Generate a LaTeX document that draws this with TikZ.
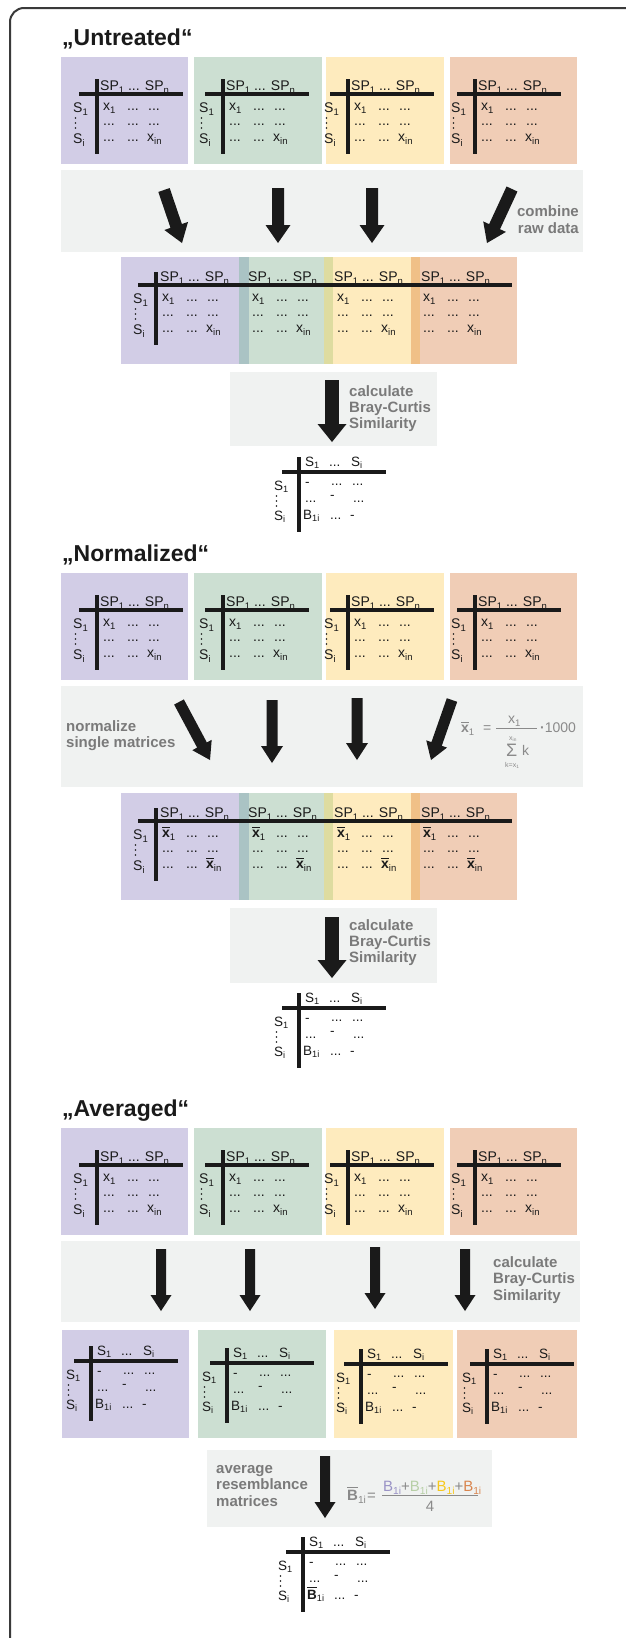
\documentclass[tikz,border=0pt]{standalone}
\usepackage{fontspec}
\setmainfont{Liberation Sans}
\usetikzlibrary{calc}
\definecolor{purp}{HTML}{D2CDE6}
\definecolor{gree}{HTML}{CCDFD2}
\definecolor{yell}{HTML}{FEEBBE}
\definecolor{oran}{HTML}{F0CDB6}
\definecolor{pg}{HTML}{AAC3C4}
\definecolor{gy}{HTML}{DEDCA0}
\definecolor{yo}{HTML}{F0C087}
\definecolor{bandc}{HTML}{F0F2F1}
\definecolor{inkc}{HTML}{1A1A1A}
\definecolor{lblc}{HTML}{7A7A7A}
\definecolor{frmc}{HTML}{3A3A3A}
\definecolor{fmlc}{HTML}{8A8A8A}
\definecolor{bpur}{HTML}{9A93C6}
\definecolor{bgre}{HTML}{B7CFA6}
\definecolor{byel}{HTML}{F7C81B}
\definecolor{bora}{HTML}{D9854E}
\newcommand\dn[1]{\raisebox{-0.22em}{\scalebox{0.68}{#1}}}
\newcommand\ovl[1]{\leavevmode\setbox0\hbox{#1}\rlap{\raisebox{\dimexpr\ht0+1.3pt\relax}{\rule{\wd0}{1.4pt}}}\box0}
\tikzset{
 bar/.style={line width=3.8pt, draw=inkc},
 mt/.style={inner sep=0pt, anchor=base west, text=inkc, font=\fontsize{14}{14}\selectfont},
 rt/.style={inner sep=0pt, anchor=base west, text=inkc, font=\fontsize{13.5}{13.5}\selectfont},
 lbl/.style={inner sep=0pt, anchor=base west, text=lblc, font=\fontsize{15}{15}\selectfont\bfseries},
 ttl/.style={inner sep=0pt, anchor=base west, text=inkc, font=\fontsize{23}{23}\selectfont\bfseries},
 fml/.style={inner sep=0pt, anchor=base west, text=fmlc, font=\fontsize{14}{14}\selectfont},
 fmls/.style={inner sep=0pt, anchor=base west, text=fmlc, font=\fontsize{7}{7}\selectfont},
 fmlb/.style={inner sep=0pt, anchor=base west, text=fmlc, font=\fontsize{15}{15}\selectfont},
}
% big block arrow: name, start, tip, half shaft, half head, head length
\newcommand\bigarr[6]{%
\coordinate (#1s) at #2;
\coordinate (#1t) at #3;
\coordinate (#1h) at ($(#1t)!#6!(#1s)$);
\fill[inkc] ($(#1s)!#4!90:(#1t)$) -- ($(#1h)!#4!-90:(#1s)$) -- ($(#1h)!#5!-90:(#1s)$) -- (#1t) -- ($(#1h)!#5!90:(#1s)$) -- ($(#1h)!#4!90:(#1s)$) -- ($(#1s)!#4!-90:(#1t)$) -- cycle;}
% source matrix: prefix, vx, hy, first entry, last entry
\newcommand\srcmat[5]{%
\begin{scope}[shift={(#2,#3)}]
\draw[bar] (0,-15) -- (0,60);
\draw[bar] (-18,0) -- (86,0);
\node[mt] (#1hd) at (3,-4) {SP\dn{1} ... SP\dn{n}};
\node[mt] (#1sa) at (-24,18) {S\dn{1}};
\node[mt] (#1sb) at (-24,49) {S\dn{i}};
\fill[inkc] (-21.5,24) circle (0.9pt) (-21.5,29) circle (0.9pt) (-21.5,34) circle (0.9pt);
\node[mt] (#1ra) at (6,16) {#4};
\node[mt] (#1rb) at (30,16) {...};
\node[mt] (#1rc) at (51,16) {...};
\node[mt] (#1rd) at (6,31) {...};
\node[mt] (#1re) at (30,31) {...};
\node[mt] (#1rf) at (51,31) {...};
\node[mt] (#1rg) at (6,47) {...};
\node[mt] (#1rh) at (30,47) {...};
\node[mt] (#1ri) at (50,47) {#5};
\end{scope}}
% combined matrix: prefix, vx, hy, first entry, last entry
\newcommand\combmat[5]{%
\begin{scope}[shift={(#2,#3)}]
\draw[bar] (0,-13) -- (0,60);
\draw[bar] (-18,0) -- (356,0);
\node[mt] (#1sa) at (-23,18) {S\dn{1}};
\node[mt] (#1sb) at (-23,49) {S\dn{i}};
\fill[inkc] (-20.5,24) circle (0.9pt) (-20.5,29) circle (0.9pt) (-20.5,34) circle (0.9pt);
\foreach \hx/\rx [count=\k] in {4/6, 92/96, 178/181, 265/267}{
 \node[mt] (#1hd\k) at (\hx,-4) {SP\dn{1} ... SP\dn{n}};
 \node[mt] (#1ra\k) at (\rx,16) {#4};
 \node[mt] (#1rb\k) at (\rx+24,16) {...};
 \node[mt] (#1rc\k) at (\rx+45,16) {...};
 \node[mt] (#1rd\k) at (\rx,31) {...};
 \node[mt] (#1re\k) at (\rx+24,31) {...};
 \node[mt] (#1rf\k) at (\rx+45,31) {...};
 \node[mt] (#1rg\k) at (\rx,47) {...};
 \node[mt] (#1rh\k) at (\rx+24,47) {...};
 \node[mt] (#1ri\k) at (\rx+44,47) {#5};
}
\end{scope}}
% resemblance matrix: prefix, vx, hy, corner entry
\newcommand\resmat[4]{%
\begin{scope}[shift={(#2,#3)}]
\draw[bar] (0,-15) -- (0,60);
\draw[bar] (-17,0) -- (87,0);
\node[rt] (#1ha) at (6,-6) {S\dn{1}};
\node[rt] (#1hb) at (30,-6) {...};
\node[rt] (#1hc) at (52,-6) {S\dn{i}};
\node[rt] (#1sa) at (-25,18) {S\dn{1}};
\node[rt] (#1sb) at (-25,48) {S\dn{i}};
\fill[inkc] (-22.5,24) circle (0.85pt) (-22.5,29) circle (0.85pt) (-22.5,34) circle (0.85pt);
\node[rt] (#1a) at (6,14) {-};
\node[rt] (#1b) at (32,13) {...};
\node[rt] (#1c) at (53,13) {...};
\node[rt] (#1d) at (6,30) {...};
\node[rt] (#1e) at (31,27) {-};
\node[rt] (#1f) at (54,30) {...};
\node[rt] (#1g) at (4,47) {#4};
\node[rt] (#1k) at (31,47) {...};
\node[rt] (#1m) at (51,47) {-};
\end{scope}}
\newcommand\fourboxes[2]{%
\fill[purp] (61,#1) rectangle (188,#2);
\fill[gree] (194,#1) rectangle (322,#2);
\fill[yell] (326,#1) rectangle (444,#2);
\fill[oran] (450,#1) rectangle (577,#2);}
\newcommand\combbox[2]{%
\fill[purp] (121,#1) rectangle (239,#2);
\fill[pg] (239,#1) rectangle (249,#2);
\fill[gree] (249,#1) rectangle (324,#2);
\fill[gy] (324,#1) rectangle (333,#2);
\fill[yell] (333,#1) rectangle (411,#2);
\fill[yo] (411,#1) rectangle (420,#2);
\fill[oran] (420,#1) rectangle (517,#2);}
\newcommand\xb{\ovl{\textbf{x}}}
\begin{document}
\begin{tikzpicture}[x=1pt,y=-1pt]
\useasboundingbox (0,0) rectangle (625,1638);
\fill[white] (0,0) rectangle (625,1638);
\draw[frmc, line width=2pt, rounded corners=14pt] (10,1700) -- (10,8) -- (700,8);

% ---------------- Untreated ----------------
\node[ttl] (t1) at (62,45) {„Untreated“};
\fourboxes{57}{164}
\srcmat{ua}{97}{94}{x\dn{1}}{x\dn{in}}
\srcmat{ub}{223}{94}{x\dn{1}}{x\dn{in}}
\srcmat{uc}{348}{94}{x\dn{1}}{x\dn{in}}
\srcmat{ud}{475}{94}{x\dn{1}}{x\dn{in}}
\fill[bandc] (61,170) rectangle (583,252);
\bigarr{ua1}{(164,190)}{(182,243)}{6pt}{12.5pt}{18pt}
\bigarr{ua2}{(278,188)}{(278,243)}{6pt}{12.5pt}{18pt}
\bigarr{ua3}{(372,188)}{(372,243)}{6pt}{12.5pt}{18pt}
\bigarr{ua4}{(512,189)}{(487,243)}{6pt}{12.5pt}{18pt}
\node[lbl, anchor=base east] (l1a) at (579,216) {combine};
\node[lbl, anchor=base east] (l1b) at (579,233) {raw data};
\combbox{257}{364}
\combmat{uk}{156}{285}{x\dn{1}}{x\dn{in}}
\fill[bandc] (230,372) rectangle (437,446);
\bigarr{ub1}{(332,380)}{(332,442)}{6.8pt}{14.5pt}{18pt}
\node[lbl] (l2a) at (349,396) {calculate};
\node[lbl] (l2b) at (349,412) {Bray-Curtis};
\node[lbl] (l2c) at (349,428) {Similarity};
\resmat{ur}{299}{472}{B\dn{1i}}

% ---------------- Normalized ----------------
\node[ttl] (t2) at (62,561) {„Normalized“};
\fourboxes{573}{680}
\srcmat{na}{97}{610}{x\dn{1}}{x\dn{in}}
\srcmat{nb}{223}{610}{x\dn{1}}{x\dn{in}}
\srcmat{nc}{348}{610}{x\dn{1}}{x\dn{in}}
\srcmat{nd}{475}{610}{x\dn{1}}{x\dn{in}}
\fill[bandc] (61,686) rectangle (583,787);
\bigarr{na1}{(179,702)}{(210,760)}{5.5pt}{11pt}{17pt}
\bigarr{na2}{(272,700)}{(272,763)}{5.5pt}{11pt}{17pt}
\bigarr{na3}{(357,698)}{(357,760)}{5.5pt}{11pt}{17pt}
\bigarr{na4}{(452,700)}{(431,760)}{5.5pt}{11pt}{17pt}
\node[lbl] (l3a) at (66,731) {normalize};
\node[lbl] (l3b) at (66,747) {single matrices};
\node[fml] (f1) at (461,732) {\xb\dn{1}};
\node[fml] (f2) at (483,732) {=};
\draw[fmlc, line width=0.7pt] (496,728) -- (537,728);
\node[fml] (f3) at (508,723) {x\dn{1}};
\node[fmls] (f4) at (509,740) {x\dn{in}};
\node[fml, font=\fontsize{18}{18}\selectfont] (f5) at (506,756) {Σ};
\node[fml] (f6) at (522,755) {k};
\node[fmls] (f7) at (505,767) {k=x\dn{1}};
\node[fml] (f8) at (540,732) {\textbf{·}1000};
\combbox{793}{900}
\combmat{nk}{156}{821}{\xb\dn{1}}{\xb\dn{in}}
\fill[bandc] (230,908) rectangle (437,983);
\bigarr{nb1}{(332,917)}{(332,978)}{6.8pt}{14.5pt}{18pt}
\node[lbl] (l4a) at (349,930) {calculate};
\node[lbl] (l4b) at (349,946) {Bray-Curtis};
\node[lbl] (l4c) at (349,962) {Similarity};
\resmat{nr}{299}{1008}{B\dn{1i}}

% ---------------- Averaged ----------------
\node[ttl] (t3) at (62,1116) {„Averaged“};
\fourboxes{1128}{1235}
\srcmat{aa}{97}{1165}{x\dn{1}}{x\dn{in}}
\srcmat{ab}{223}{1165}{x\dn{1}}{x\dn{in}}
\srcmat{ac}{348}{1165}{x\dn{1}}{x\dn{in}}
\srcmat{ad}{475}{1165}{x\dn{1}}{x\dn{in}}
\fill[bandc] (61,1241) rectangle (580,1322);
\bigarr{aa1}{(161,1249)}{(161,1311)}{5pt}{10.5pt}{16pt}
\bigarr{aa2}{(250,1249)}{(250,1311)}{5pt}{10.5pt}{16pt}
\bigarr{aa3}{(375,1247)}{(375,1309)}{5pt}{10.5pt}{16pt}
\bigarr{aa4}{(465,1249)}{(465,1311)}{5pt}{10.5pt}{16pt}
\node[lbl] (l5a) at (493,1267) {calculate};
\node[lbl] (l5b) at (493,1283) {Bray-Curtis};
\node[lbl] (l5c) at (493,1300) {Similarity};
\fill[purp] (62,1330) rectangle (189,1438);
\fill[gree] (198,1330) rectangle (326,1438);
\fill[yell] (334,1330) rectangle (453,1438);
\fill[oran] (457,1330) rectangle (577,1438);
\resmat{ra}{91}{1361}{B\dn{1i}}
\resmat{rb}{227}{1363}{B\dn{1i}}
\resmat{rc}{361}{1364}{B\dn{1i}}
\resmat{rd}{487}{1364}{B\dn{1i}}
\fill[bandc] (207,1450) rectangle (492,1527);
\bigarr{av1}{(325,1456)}{(325,1518)}{5pt}{10.5pt}{16pt}
\node[lbl] (l6a) at (216,1473) {average};
\node[lbl] (l6b) at (216,1489) {resemblance};
\node[lbl] (l6c) at (216,1506) {matrices};
\node[fmlb] (g1) at (347,1500) {\ovl{\textbf{B}}\dn{1i}};
\node[fmlb] (g2) at (367,1500) {=};
\draw[fmlc, line width=0.7pt] (382,1495) -- (478,1495);
\node[fmlb] (g3) at (383,1491) {\textcolor{bpur}{B\dn{1i}}+\textcolor{bgre}{B\dn{1i}}+\textcolor{byel}{B\dn{1i}}+\textcolor{bora}{B\dn{1i}}};
\node[fmlb, anchor=base] (g4) at (430,1511) {4};
\resmat{fr}{303}{1552}{\ovl{\textbf{B}}\dn{1i}}
\end{tikzpicture}
\end{document}
